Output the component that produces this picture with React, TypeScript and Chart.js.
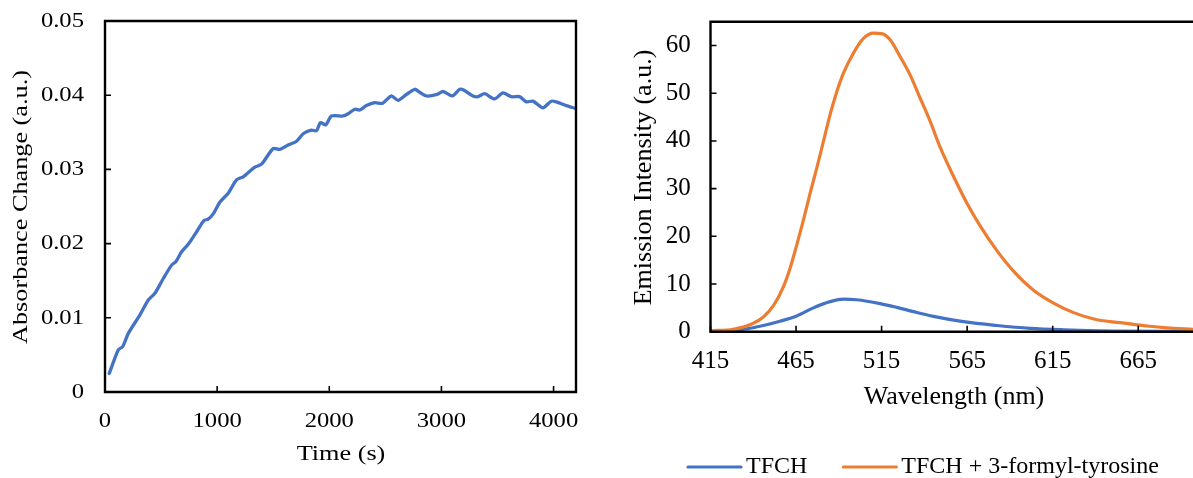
import React, { useEffect, useRef } from "react";
import { Chart, registerables } from "chart.js";

Chart.register(...registerables);

// ---------- Left chart data ----------
const TIME_S = [
  38, 119, 157, 208, 312, 386, 445, 520, 594, 633,
  683, 742, 817, 882, 920, 965, 1025, 1099, 1173, 1232,
  1336, 1396, 1499, 1559, 1633, 1708, 1767, 1841, 1886, 1921,
  1969, 2019, 2123, 2168, 2227, 2272, 2331, 2405, 2474, 2554,
  2613, 2688, 2762, 2806, 2866, 2961, 3014, 3097, 3163, 3198,
  3281, 3326, 3385, 3474, 3548, 3623, 3697, 3757, 3816, 3905,
  3979, 4024, 4113, 4200,
];
const ABSORBANCE_CHANGE = [
  0.0025, 0.0057, 0.0061, 0.0079, 0.0104, 0.0124, 0.0133, 0.0153, 0.0171, 0.0176,
  0.0189, 0.0199, 0.0216, 0.0231, 0.0233, 0.024, 0.0256, 0.0268, 0.0286, 0.029,
  0.0303, 0.0307, 0.0328, 0.0327, 0.0333, 0.0338, 0.0348, 0.0353, 0.0352, 0.0363,
  0.036, 0.0372, 0.0372, 0.0375, 0.0381, 0.038, 0.0386, 0.039, 0.0389, 0.0399,
  0.0393, 0.0401, 0.0408, 0.0404, 0.0399, 0.0401, 0.0405, 0.0399, 0.0408, 0.0407,
  0.0399, 0.0398, 0.0402, 0.0395, 0.0403, 0.0398, 0.0398, 0.0391, 0.0392, 0.0383,
  0.0392, 0.0391, 0.0386, 0.0382,
];
const TIME_TICKS = [0, 1000, 2000, 3000, 4000];
const TIME_TICK_LABELS = ["0", "1000", "2000", "3000", "4000"];
const ABS_TICKS = [0, 0.01, 0.02, 0.03, 0.04, 0.05];
const ABS_TICK_LABELS = ["0", "0.01", "0.02", "0.03", "0.04", "0.05"];
const TIME_TITLE = "Time (s)";
const ABS_TITLE = "Absorbance Change (a.u.)";

// ---------- Right chart data ----------
const TFCH_NM = [
  415, 426.3, 436.2, 445.9, 455.6, 465.4, 475.1, 484.9, 492.7, 500.5,
  514.1, 523.9, 533.6, 545.3, 562.8, 582.4, 601.8, 621.3, 650.6, 697,
];
const TFCH_INT = [
  0, 0.2, 0.6, 1.3, 2.2, 3.3, 5.0, 6.3, 6.85, 6.7,
  5.9, 5.1, 4.2, 3.2, 2.1, 1.3, 0.7, 0.4, 0.15, 0.05,
];
const TFCH_FT_NM = [
  415, 428.3, 439.1, 445.9, 451.7, 457.6, 461.5, 465.4, 469.3, 473.2,
  477.1, 481, 484.9, 488.8, 492.7, 498.5, 504.4, 510.2, 515.1, 520,
  525.8, 531.7, 537.5, 543.4, 549.2, 557, 564.8, 572.6, 582.4, 592.1,
  603.8, 615.5, 627.2, 640.8, 654.5, 670.1, 681.8, 697,
];
const TFCH_FT_INT = [
  0.2, 0.5, 1.6, 3.1, 5.4, 9.4, 13.3, 18.2, 23.4, 29.0,
  34.3, 39.9, 45.5, 50.3, 54.2, 58.4, 61.5, 62.6, 62.5, 61.2,
  57.7, 53.8, 49.0, 44.1, 38.7, 32.6, 27.0, 22.2, 17.0, 12.7,
  8.7, 6.0, 4.0, 2.5, 1.9, 1.2, 0.8, 0.5,
];
const WL_TICKS = [415, 465, 515, 565, 615, 665];
const WL_TICK_LABELS = ["415", "465", "515", "565", "615", "665"];
const INT_TICKS = [0, 10, 20, 30, 40, 50, 60];
const INT_TICK_LABELS = ["0", "10", "20", "30", "40", "50", "60"];
const WL_TITLE = "Wavelength (nm)";
const INT_TITLE = "Emission Intensity (a.u.)";
const SERIES_LABELS = ["TFCH", "TFCH + 3-formyl-tyrosine"];
const SERIES_COLORS = ["#4472C4", "#ED7D31"];

const SERIF = '"Liberation Serif", "Times New Roman", serif';

function drawText(
  ctx: CanvasRenderingContext2D,
  text: string,
  x: number,
  y: number,
  font: string,
  align: CanvasTextAlign,
  stretch: number,
  rotate: boolean
) {
  ctx.save();
  ctx.translate(x, y);
  if (rotate) ctx.rotate(-Math.PI / 2);
  ctx.scale(stretch, 1);
  ctx.font = font;
  ctx.fillStyle = "#000";
  ctx.textAlign = align;
  ctx.textBaseline = "middle";
  ctx.fillText(text, 0, 0);
  ctx.restore();
}

type AxisStyle = {
  rightBorder: boolean;
  xTicks: number[];
  xLabels: string[];
  yTicks: number[];
  yLabels: string[];
  xTitle: string;
  yTitle: string;
  tickFont: string;
  titleFont: string;
  tickStretch: number;
  titleStretch: number;
  yLabelRight: number;
  xLabelY: number;
  xTitleX: number;
  xTitleY: number;
  yTitleX: number;
  yTitleY: number;
};

function makeAxesPlugin(s: AxisStyle) {
  return {
    id: "customAxes",
    afterDatasetsDraw(chart: any) {
      const ctx: CanvasRenderingContext2D = chart.ctx;
      const { left, right, top, bottom } = chart.chartArea;
      const xs = chart.scales.x;
      const ys = chart.scales.y;
      ctx.save();
      ctx.strokeStyle = "#000";
      ctx.lineWidth = 2.4;
      ctx.lineCap = "square";
      ctx.beginPath();
      ctx.moveTo(right + (s.rightBorder ? 0 : 2), top);
      ctx.lineTo(left, top);
      ctx.lineTo(left, bottom);
      ctx.lineTo(right + (s.rightBorder ? 0 : 2), bottom);
      if (s.rightBorder) {
        ctx.lineTo(right, top);
      }
      ctx.stroke();
      // inward tick marks
      ctx.lineWidth = 1.6;
      ctx.lineCap = "butt";
      ctx.beginPath();
      s.yTicks.forEach((v) => {
        const py = ys.getPixelForValue(v);
        ctx.moveTo(left, py);
        ctx.lineTo(left + 6, py);
      });
      s.xTicks.forEach((v) => {
        const px = xs.getPixelForValue(v);
        ctx.moveTo(px, bottom);
        ctx.lineTo(px, bottom - 6);
      });
      ctx.stroke();
      ctx.restore();

      s.yTicks.forEach((v, i) => {
        drawText(ctx, s.yLabels[i], s.yLabelRight, ys.getPixelForValue(v), s.tickFont, "right", s.tickStretch, false);
      });
      s.xTicks.forEach((v, i) => {
        drawText(ctx, s.xLabels[i], xs.getPixelForValue(v), s.xLabelY, s.tickFont, "center", s.tickStretch, false);
      });
      drawText(ctx, s.xTitle, s.xTitleX, s.xTitleY, s.titleFont, "center", s.titleStretch, false);
      drawText(ctx, s.yTitle, s.yTitleX, s.yTitleY, s.titleFont, "center", s.titleStretch, true);
    },
  };
}

const legendPlugin = {
  id: "customLegend",
  afterDraw(chart: any) {
    const ctx: CanvasRenderingContext2D = chart.ctx;
    ctx.save();
    ctx.font = `24px ${SERIF}`;
    ctx.textBaseline = "middle";
    ctx.textAlign = "left";
    let x = 88;
    const y = 467;
    SERIES_LABELS.forEach((label, i) => {
      ctx.strokeStyle = SERIES_COLORS[i];
      ctx.lineWidth = 3.2;
      ctx.lineCap = "round";
      ctx.beginPath();
      ctx.moveTo(x, y);
      ctx.lineTo(x + 53, y);
      ctx.stroke();
      x += 58;
      ctx.fillStyle = "#000";
      ctx.fillText(label, x, y);
      x += ctx.measureText(label).width + 36;
    });
    ctx.restore();
  },
};

export default function App() {
  const leftRef = useRef<HTMLCanvasElement>(null);
  const rightRef = useRef<HTMLCanvasElement>(null);

  useEffect(() => {
    const leftChart = new Chart(leftRef.current as HTMLCanvasElement, {
      type: "line",
      data: {
        datasets: [
          {
            label: ABS_TITLE,
            data: TIME_S.map((t, i) => ({ x: t, y: ABSORBANCE_CHANGE[i] })),
            borderColor: SERIES_COLORS[0],
            borderWidth: 3.3,
            pointRadius: 0,
            tension: 0.25,
            borderJoinStyle: "round",
            borderCapStyle: "round",
          },
        ],
      },
      options: {
        responsive: false,
        animation: false,
        layout: { padding: { left: 105, right: 24, top: 21, bottom: 86 } },
        plugins: { legend: { display: false }, tooltip: { enabled: false } },
        scales: {
          x: { type: "linear", min: 0, max: 4200, display: false },
          y: { type: "linear", min: 0, max: 0.05, display: false },
        },
      },
      plugins: [
        makeAxesPlugin({
          rightBorder: true,
          xTicks: TIME_TICKS,
          xLabels: TIME_TICK_LABELS,
          yTicks: ABS_TICKS,
          yLabels: ABS_TICK_LABELS,
          xTitle: TIME_TITLE,
          yTitle: ABS_TITLE,
          tickFont: `22px ${SERIF}`,
          titleFont: `20.5px ${SERIF}`,
          tickStretch: 1.12,
          titleStretch: 1.28,
          yLabelRight: 84,
          xLabelY: 421,
          xTitleX: 341,
          xTitleY: 455,
          yTitleX: 22,
          yTitleY: 207,
        }),
      ],
    } as any);

    const rightChart = new Chart(rightRef.current as HTMLCanvasElement, {
      type: "line",
      data: {
        datasets: [
          {
            label: SERIES_LABELS[0],
            data: TFCH_NM.map((w, i) => ({ x: w, y: TFCH_INT[i] })),
            borderColor: SERIES_COLORS[0],
            borderWidth: 3.2,
            pointRadius: 0,
            cubicInterpolationMode: "monotone",
            order: 2,
          },
          {
            label: SERIES_LABELS[1],
            data: TFCH_FT_NM.map((w, i) => ({ x: w, y: TFCH_FT_INT[i] })),
            borderColor: SERIES_COLORS[1],
            borderWidth: 3.2,
            pointRadius: 0,
            cubicInterpolationMode: "monotone",
            order: 1,
          },
        ],
      },
      options: {
        responsive: false,
        animation: false,
        layout: { padding: { left: 110.5, right: 0, top: 21.7, bottom: 146.3 } },
        plugins: { legend: { display: false }, tooltip: { enabled: false } },
        scales: {
          x: { type: "linear", min: 415, max: 697, display: false },
          y: { type: "linear", min: 0, max: 65, display: false },
        },
      },
      plugins: [
        makeAxesPlugin({
          rightBorder: false,
          xTicks: WL_TICKS,
          xLabels: WL_TICK_LABELS,
          yTicks: INT_TICKS,
          yLabels: INT_TICK_LABELS,
          xTitle: WL_TITLE,
          yTitle: INT_TITLE,
          tickFont: `25px ${SERIF}`,
          titleFont: `26px ${SERIF}`,
          tickStretch: 1,
          titleStretch: 1,
          yLabelRight: 90.7,
          xLabelY: 361.7,
          xTitleX: 354,
          xTitleY: 397.5,
          yTitleX: 44.5,
          yTitleY: 177.5,
        }),
        legendPlugin,
      ],
    } as any);

    return () => {
      leftChart.destroy();
      rightChart.destroy();
    };
  }, []);

  return (
    <div
      style={{
        position: "absolute",
        left: 0,
        top: 0,
        width: 1193,
        height: 478,
        overflow: "hidden",
        background: "#fff",
      }}
    >
      <canvas
        ref={leftRef}
        width={600}
        height={478}
        style={{ position: "absolute", left: 0, top: 0, width: 600, height: 478 }}
      />
      <canvas
        ref={rightRef}
        width={593}
        height={478}
        style={{ position: "absolute", left: 600, top: 0, width: 593, height: 478 }}
      />
    </div>
  );
}
